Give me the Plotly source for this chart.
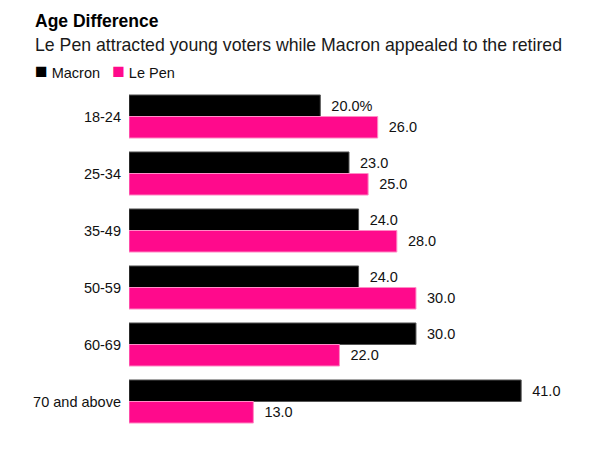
import plotly.graph_objects as go

FONT = "Liberation Sans, Arial, sans-serif"

age_groups = ["18-24", "25-34", "35-49", "50-59", "60-69", "70 and above"]
macron = [20.0, 23.0, 24.0, 24.0, 30.0, 41.0]
le_pen = [26.0, 25.0, 28.0, 30.0, 22.0, 13.0]

PAD = "\u00a0\u00a0"
macron_labels = [PAD + f"{v:.1f}" for v in macron]
macron_labels[0] = macron_labels[0] + "%"
le_pen_labels = [PAD + f"{v:.1f}" for v in le_pen]

BLACK = "#000000"
PINK = "#ff0a8c"

# the page has an 8px body margin, so the figure is 8px smaller than the window
W, H = 589, 451
L, R, T, B = 121, 28, 80, 29
PW, PH = W - L - R, H - T - B


def px(x):
    return (x - L) / PW


def py(y):
    return 1 + (T - y) / PH


fig = go.Figure()
fig.add_trace(go.Bar(
    y=age_groups, x=macron, name="Macron", orientation="h",
    marker=dict(color=BLACK, line=dict(color="#555555", width=1)),
    text=macron_labels, textposition="outside", cliponaxis=False,
    textfont=dict(family=FONT, size=14.5, color="#111111"),
))
fig.add_trace(go.Bar(
    y=age_groups, x=le_pen, name="Le Pen", orientation="h",
    marker=dict(color=PINK, line=dict(color="#ff8cc6", width=1)),
    text=le_pen_labels, textposition="outside", cliponaxis=False,
    textfont=dict(family=FONT, size=14.5, color="#111111"),
))

fig.update_layout(
    width=W, height=H,
    margin=dict(l=L, r=R, t=T, b=B),
    paper_bgcolor="white", plot_bgcolor="white",
    barmode="group", bargap=0.245, bargroupgap=0,
    showlegend=False,
    font=dict(family=FONT, size=14.5, color="#111111"),
    xaxis=dict(range=[0, 46], visible=False, fixedrange=True),
    yaxis=dict(autorange="reversed", showgrid=False, zeroline=False,
               showline=False, ticks="", ticklabelstandoff=7,
               tickfont=dict(family=FONT, size=14.5, color="#111111")),
    annotations=[
        dict(text="<b>Age Difference</b>", xref="paper", yref="paper",
             x=px(25), y=py(13), xanchor="left", yanchor="middle",
             showarrow=False, font=dict(family=FONT, size=17.5, color="#000000")),
        dict(text="Le Pen attracted young voters while Macron appealed to the retired",
             xref="paper", yref="paper",
             x=px(25), y=py(37), xanchor="left", yanchor="middle",
             showarrow=False, font=dict(family=FONT, size=17.7, color="#1a1a1a")),
        dict(text=f"<span style='color:{BLACK};font-size:21px'>■</span> Macron&nbsp;&nbsp; "
                  f"<span style='color:{PINK};font-size:21px'>■</span> Le Pen",
             xref="paper", yref="paper",
             x=px(25), y=py(63), xanchor="left", yanchor="middle",
             showarrow=False, font=dict(family=FONT, size=14.5, color="#111111")),
    ],
)

fig.write_html("out.html")
